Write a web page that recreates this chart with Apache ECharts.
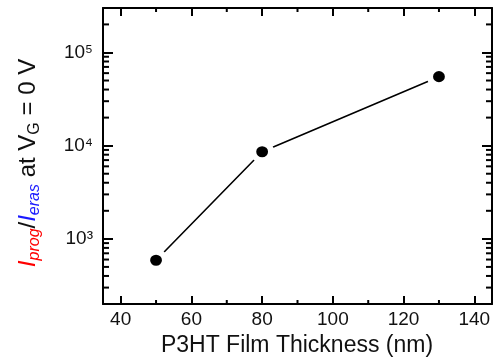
<!DOCTYPE html>
<html>
<head>
<meta charset="utf-8">
<script src="https://cdn.jsdelivr.net/npm/echarts@6/dist/echarts.min.js"></script>
<style>
  html, body { margin: 0; padding: 0; background: #fff; }
  #chart { width: 499px; height: 362px; }
</style>
</head>
<body>
<div id="chart"></div>
<script>
// film thickness (nm) vs I_prog / I_eras ratio at VG = 0 V
const thickness = [50, 80, 130];
const onOffRatio = [590, 8600, 55000];

// axis ranges and ticks
const xMin = 35, xMax = 145;
const yMin = 200, yMax = 300000;
const xMajorTicks = [40, 60, 80, 100, 120, 140];
const xMinorTicks = [50, 70, 90, 110, 130];
const yMinorTicks = [300, 400, 500, 600, 700, 800, 900,
  2000, 3000, 4000, 5000, 6000, 7000, 8000, 9000,
  20000, 30000, 40000, 50000, 60000, 70000, 80000, 90000, 200000];
const supDigits = ['\u2070', '\u00b9', '\u00b2', '\u00b3', '\u2074', '\u2075', '\u2076'];

const FONT = 'Liberation Sans';
const black = '#000';

const chart = echarts.init(document.getElementById('chart'));

function frameLine() {
  return { show: true, lineStyle: { color: black, width: 2 } };
}
function majorTick(len) {
  return { show: true, inside: true, length: len, lineStyle: { color: black, width: 2 } };
}

// one minor tick per item, placed with the axis scales
function minorTicks(values, side) {
  const vertical = side === 'left' || side === 'right';
  const edge = { left: xMin, right: xMax, bottom: yMin, top: yMax }[side];
  return {
    type: 'custom', silent: true, clip: false, z: 4,
    data: values.map(v => vertical ? [edge, v] : [v, edge]),
    renderItem: function (params, api) {
      const p = api.coord([api.value(0), api.value(1)]);
      let dx = 0, dy = 0;
      if (side === 'left') dx = 6;
      if (side === 'right') dx = -6;
      if (side === 'bottom') dy = -4;
      if (side === 'top') dy = 4;
      return {
        type: 'line',
        shape: { x1: p[0], y1: p[1], x2: p[0] + dx, y2: p[1] + dy },
        style: { stroke: black, lineWidth: 2 }
      };
    }
  };
}

function xLabel(v) {
  return xMajorTicks.indexOf(v) >= 0 ? String(v) : '';
}
function yLabel(v) {
  const lg = Math.log10(v);
  const p = Math.round(lg);
  if (Math.abs(lg - p) > 1e-6) return '';
  return '10' + supDigits[p];
}

function tok(size, color, italic, padTop) {
  return {
    fontSize: size, fill: color, fontFamily: FONT,
    fontStyle: italic ? 'italic' : 'normal',
    verticalAlign: 'middle',
    padding: [padTop || 0, 0, 0, 0]
  };
}

chart.setOption({
  animation: false,
  backgroundColor: '#fff',
  grid: { left: 103, right: 7, top: 8, bottom: 58 },
  xAxis: [
    {
      type: 'value', min: xMin, max: xMax, position: 'bottom',
      axisLine: frameLine(),
      axisTick: majorTick(8),
      axisLabel: { show: true, formatter: xLabel, margin: 6, fontSize: 19, fontFamily: FONT, color: '#111' },
      splitLine: { show: false }
    },
    {
      type: 'value', min: xMin, max: xMax, position: 'top',
      axisLine: frameLine(),
      axisTick: majorTick(8),
      axisLabel: { show: false },
      splitLine: { show: false }
    }
  ],
  yAxis: [
    {
      type: 'log', logBase: 10, min: yMin, max: yMax, position: 'left',
      axisLine: frameLine(),
      axisTick: majorTick(10),
      axisLabel: { show: true, formatter: yLabel, margin: 10, fontSize: 19, fontFamily: FONT, color: '#111' },
      splitLine: { show: false }
    },
    {
      type: 'log', logBase: 10, min: yMin, max: yMax, position: 'right',
      axisLine: frameLine(),
      axisTick: majorTick(10),
      axisLabel: { show: false },
      splitLine: { show: false }
    }
  ],
  graphic: [
    {
      type: 'text', x: 297, y: 334,
      style: {
        text: 'P3HT Film Thickness (nm)',
        font: '23px "Liberation Sans"', fill: '#111',
        align: 'center', verticalAlign: 'top'
      }
    },
    {
      type: 'text', x: 28, y: 163, rotation: Math.PI / 2,
      style: {
        text: '{ir|I}{sr|prog}{t|/}{ib|I}{sb|eras}{t| at V}{s|G}{t| = 0 V}',
        align: 'center', verticalAlign: 'middle',
        rich: {
          ir: tok(24, '#ff0000', true),
          sr: tok(16, '#ff0000', true, 14),
          ib: tok(24, '#1a1aff', true),
          sb: tok(16, '#1a1aff', true, 14),
          t: tok(24, '#111', false),
          s: tok(16, '#111', false, 14)
        }
      }
    }
  ],
  series: [
    {
      type: 'line',
      data: thickness.map((x, i) => [x, onOffRatio[i]]),
      lineStyle: { color: black, width: 1.6 },
      symbol: 'circle',
      symbolSize: [18, 17],
      itemStyle: { color: black, borderColor: '#fff', borderWidth: 6 },
      z: 3
    },
    minorTicks(yMinorTicks, 'left'),
    minorTicks(yMinorTicks, 'right'),
    minorTicks(xMinorTicks, 'bottom'),
    minorTicks(xMinorTicks, 'top')
  ]
});
</script>
</body>
</html>
